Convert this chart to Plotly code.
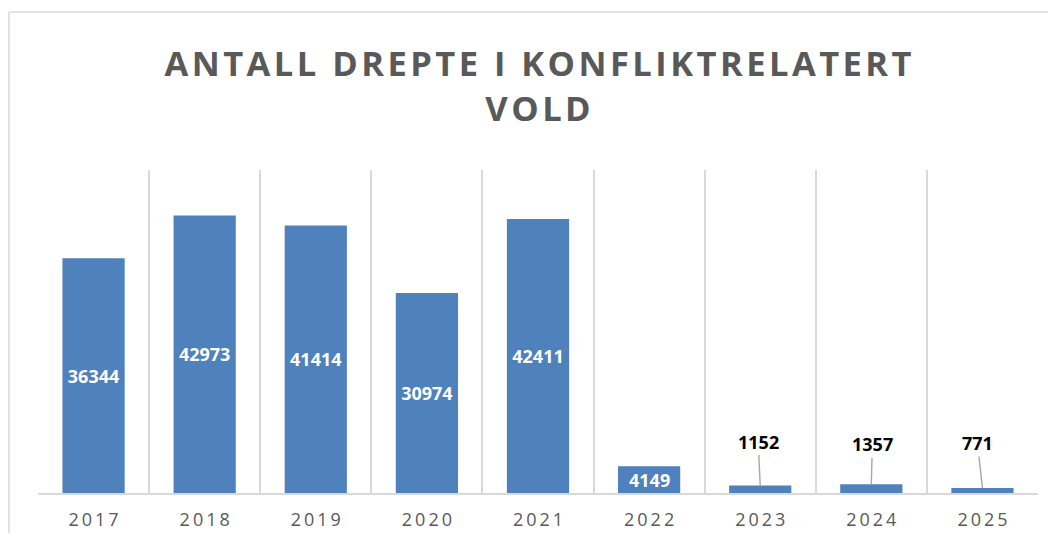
import plotly.graph_objects as go

years = ["2017", "2018", "2019", "2020", "2021", "2022", "2023", "2024", "2025"]
deaths = [36344, 42973, 41414, 30974, 42411, 4149, 1152, 1357, 771]
title_lines = ["ANTALL DREPTE I KONFLIKTRELATERT", "VOLD"]

HS = "\u200a"  # hair space for letter spacing
TS = "\u2009"  # thin space for tick-label letter spacing


def spaced(s, sep):
    return sep.join(list(s))


bar_color = "#4F81BD"
grid_color = "#D9D9D9"
text_gray = "#595959"

# figure sits inside the page body (8px default margin) -> keep it within the window
W, H = 1040, 525
OFF = 8
PL, PR, PT, PB = 38, 1038, 170, 493  # plot area in page pixels

inside_text = [str(v) if v > 10000 else "" for v in deaths]

fig = go.Figure()
fig.add_trace(go.Bar(
    x=years, y=deaths, marker=dict(color=bar_color, line=dict(width=0)),
    text=inside_text, textposition="inside", insidetextanchor="middle",
    textangle=0,
    textfont=dict(color="white", size=18, family="Open Sans", weight="bold"),
    cliponaxis=False, hoverinfo="x+y",
))

annotations = []
offsets = {"2023": (-2, -44), "2024": (1, -40), "2025": (-5, -45)}
for i, (yr, v) in enumerate(zip(years, deaths)):
    if v <= 3000:
        ax, ay = offsets[yr]
        annotations.append(dict(
            x=i, y=v, xref="x", yref="y", text="<b>%d</b>" % v,
            showarrow=True, arrowhead=0, arrowwidth=1.4, arrowcolor="#A6A6A6",
            ax=ax, ay=ay, standoff=0,
            font=dict(color="black", size=18, family="Open Sans"),
        ))
    elif v <= 10000:
        annotations.append(dict(
            x=i, y=v / 2, xref="x", yref="y", text="<b>%d</b>" % v,
            showarrow=False, xanchor="center", yanchor="middle",
            font=dict(color="white", size=18, family="Open Sans"),
        ))

title_text = "<br>".join(spaced(t, HS) for t in title_lines)


def px_x(sx):
    return (sx - PL) / (PR - PL)


def px_y(sy):
    return (PB - sy) / (PB - PT)


fig.update_layout(
    width=W, height=H,
    margin=dict(l=PL - OFF, r=W - (PR - OFF), t=PT - OFF, b=H - (PB - OFF), autoexpand=False),
    paper_bgcolor="white", plot_bgcolor="white",
    title=dict(text=title_text, x=0.5, xref="paper", xanchor="center",
               yref="container", y=1 - (76 - OFF) / H, yanchor="middle",
               font=dict(family="Open Sans", size=34.5, color=text_gray, weight="bold")),
    bargap=0.44,
    showlegend=False,
    annotations=annotations,
    xaxis=dict(type="category", categoryorder="array", categoryarray=years,
               range=[-0.5, len(years) - 0.5],
               tickson="boundaries", showgrid=True,
               gridcolor=grid_color, gridwidth=1.5,
               showline=True, linecolor=grid_color, linewidth=1.5,
               ticks="", tickmode="array", tickvals=years,
               ticktext=[spaced(y, TS) for y in years],
               tickangle=0, ticklabelstandoff=10,
               tickfont=dict(family="Open Sans", size=18, color=text_gray)),
    yaxis=dict(range=[0, 50000], showgrid=False, showticklabels=False,
               zeroline=False, showline=False, ticks=""),
    shapes=[
        dict(type="line", xref="paper", yref="paper",
             x0=px_x(9), x1=px_x(9), y0=px_y(560), y1=px_y(12),
             line=dict(color=grid_color, width=1.5)),
        dict(type="line", xref="paper", yref="paper",
             x0=px_x(9), x1=px_x(1080), y0=px_y(12), y1=px_y(12),
             line=dict(color=grid_color, width=1.5)),
    ],
)

fig.write_html("out.html")
